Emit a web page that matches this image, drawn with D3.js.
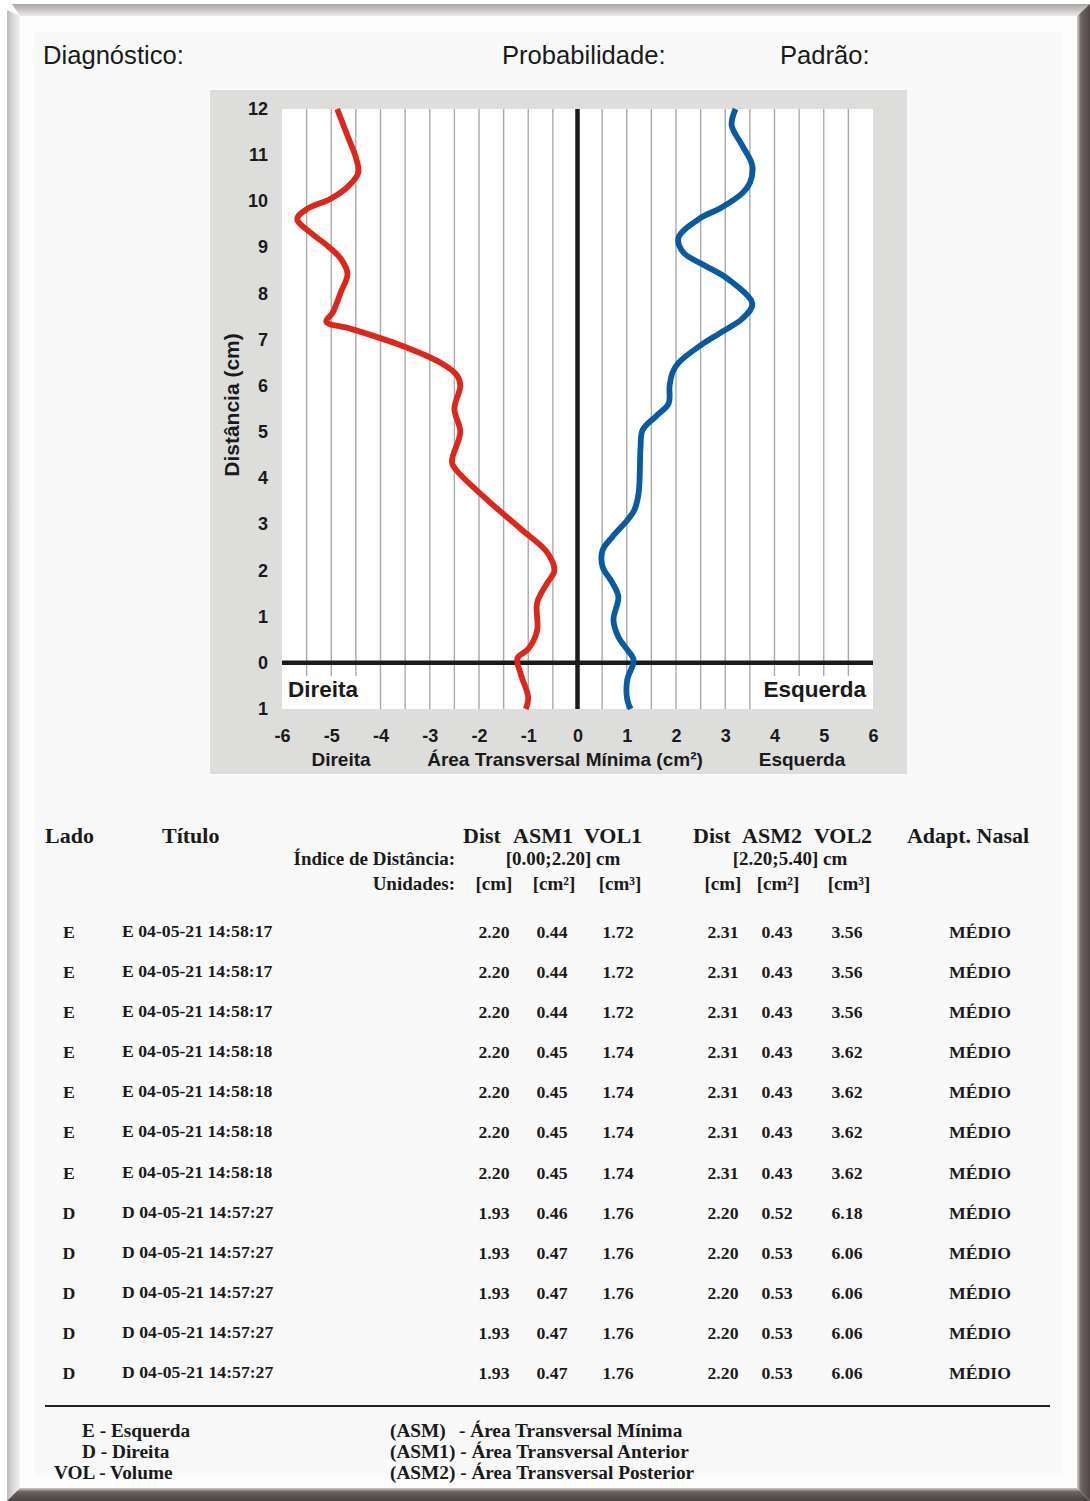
<!DOCTYPE html>
<html>
<head>
<meta charset="utf-8">
<script src="https://cdn.jsdelivr.net/npm/d3@7"></script>
<style>
  html, body { margin: 0; padding: 0; background: #ffffff; }
  svg { display: block; }
</style>
</head>
<body>
<svg id="sheet" width="1090" height="1501"></svg>
<script>
// ---- Curve data: [área (cm²), distância (cm)] ----
const rightSide = [
  [-4.88, 12], [-4.67, 11.42], [-4.51, 10.98], [-4.45, 10.62], [-4.65, 10.33],
  [-5.02, 10.05], [-5.48, 9.84], [-5.69, 9.62], [-5.42, 9.32], [-5.08, 9.04],
  [-4.81, 8.76], [-4.67, 8.43], [-4.81, 8.02], [-4.97, 7.59], [-5.1, 7.39],
  [-4.61, 7.24], [-3.59, 6.88], [-2.78, 6.5], [-2.44, 6.22], [-2.38, 6.0],
  [-2.5, 5.5], [-2.38, 5.0], [-2.55, 4.35], [-2.44, 4.15], [-1.8, 3.5],
  [-1.15, 2.9], [-0.62, 2.4], [-0.47, 2.0], [-0.62, 1.72], [-0.82, 1.3],
  [-0.82, 0.7], [-1.0, 0.3], [-1.22, 0.1], [-1.15, -0.25], [-1.0, -0.75], [-1.05, -1]
];
const leftSide = [
  [3.21, 12], [3.13, 11.65], [3.35, 11.2], [3.55, 10.77], [3.5, 10.4],
  [3.35, 10.18], [2.9, 9.85], [2.5, 9.64], [2.05, 9.21], [2.15, 8.89],
  [2.6, 8.6], [3.05, 8.32], [3.55, 7.78], [3.35, 7.46], [2.9, 7.15],
  [2.5, 6.88], [2.05, 6.5], [1.93, 6.29], [1.87, 6.0], [1.85, 5.62],
  [1.6, 5.35], [1.32, 5.04], [1.28, 4.67], [1.24, 3.67], [1.15, 3.3],
  [1.01, 3.09], [0.7, 2.72], [0.51, 2.44], [0.51, 2.08], [0.7, 1.75],
  [0.83, 1.43], [0.73, 0.93], [0.83, 0.56], [1.0, 0.3], [1.14, 0.06],
  [1.01, -0.37], [1.01, -0.8], [1.08, -1]
];
const xTicks = [-6, -5, -4, -3, -2, -1, 0, 1, 2, 3, 4, 5, 6];
const yTicks = [-1, 0, 1, 2, 3, 4, 5, 6, 7, 8, 9, 10, 11, 12];

// ---- Table data ----
const lado   = ["E","E","E","E","E","E","E","D","D","D","D","D"];
const titulo = ["E 04-05-21 14:58:17","E 04-05-21 14:58:17","E 04-05-21 14:58:17",
                "E 04-05-21 14:58:18","E 04-05-21 14:58:18","E 04-05-21 14:58:18","E 04-05-21 14:58:18",
                "D 04-05-21 14:57:27","D 04-05-21 14:57:27","D 04-05-21 14:57:27","D 04-05-21 14:57:27","D 04-05-21 14:57:27"];
const dist1  = ["2.20","2.20","2.20","2.20","2.20","2.20","2.20","1.93","1.93","1.93","1.93","1.93"];
const asm1   = ["0.44","0.44","0.44","0.45","0.45","0.45","0.45","0.46","0.47","0.47","0.47","0.47"];
const vol1   = ["1.72","1.72","1.72","1.74","1.74","1.74","1.74","1.76","1.76","1.76","1.76","1.76"];
const dist2  = ["2.31","2.31","2.31","2.31","2.31","2.31","2.31","2.20","2.20","2.20","2.20","2.20"];
const asm2   = ["0.43","0.43","0.43","0.43","0.43","0.43","0.43","0.52","0.53","0.53","0.53","0.53"];
const vol2   = ["3.56","3.56","3.56","3.62","3.62","3.62","3.62","6.18","6.06","6.06","6.06","6.06"];
const adapt  = ["MÉDIO","MÉDIO","MÉDIO","MÉDIO","MÉDIO","MÉDIO","MÉDIO","MÉDIO","MÉDIO","MÉDIO","MÉDIO","MÉDIO"];

const svg = d3.select("#sheet");
const SANS = "'Liberation Sans', Arial, sans-serif";
const SERIF = "'Liberation Serif', 'Times New Roman', serif";

// ---- Bevelled frame ----
const defs = svg.append("defs");
function grad(id, x1, y1, x2, y2, stops) {
  const g = defs.append("linearGradient").attr("id", id)
    .attr("x1", x1).attr("y1", y1).attr("x2", x2).attr("y2", y2);
  stops.forEach(s => g.append("stop").attr("offset", s[0]).attr("stop-color", s[1]));
}
grad("gTop", 0, 0, 0, 1, [[0, "#a9a4a3"], [0.5, "#c9c6c5"], [1, "#ecebeb"]]);
grad("gLeft", 0, 0, 1, 0, [[0, "#bdbaba"], [0.5, "#dcdada"], [1, "#f2f1f1"]]);
grad("gRight", 0, 0, 1, 0, [[0, "#d8d4d4"], [0.3, "#6e6464"], [1, "#4f4545"]]);
grad("gBottom", 0, 0, 0, 1, [[0, "#d0cccc"], [0.3, "#6a6060"], [1, "#4b4242"]]);

svg.append("rect").attr("width", 1090).attr("height", 1501).attr("fill", "#ffffff");
svg.append("rect").attr("x", 20).attr("y", 16).attr("width", 1057).attr("height", 1472).attr("fill", "#fdfdfd");
svg.append("rect").attr("x", 35).attr("y", 32).attr("width", 1028).attr("height", 1443).attr("fill", "#f9f9f9");
svg.append("path").attr("d", "M12,4 L1090,4 L1077,16 L20,16 Z").attr("fill", "url(#gTop)");
svg.append("path").attr("d", "M7,10 L20,16 L20,1488 L7,1501 Z").attr("fill", "url(#gLeft)");
svg.append("path").attr("d", "M1077,16 L1090,4 L1090,1501 L1077,1488 Z").attr("fill", "url(#gRight)");
svg.append("path").attr("d", "M20,1488 L1077,1488 L1090,1501 L7,1501 Z").attr("fill", "url(#gBottom)");

// ---- Header labels ----
const head = svg.append("g").attr("font-family", SANS).attr("font-size", 25.6).attr("fill", "#1a1a1a");
head.append("text").attr("x", 43).attr("y", 64).text("Diagnóstico:");
head.append("text").attr("x", 502).attr("y", 64).text("Probabilidade:");
head.append("text").attr("x", 780).attr("y", 64).text("Padrão:");

// ---- Chart ----
const panel = { x: 210, y: 90, w: 697, h: 684 };
const plot = { left: 282, right: 873, top: 109, bottom: 709 };
const x = d3.scaleLinear().domain([-6, 6]).range([plot.left, plot.right]);
const y = d3.scaleLinear().domain([-1, 12]).range([plot.bottom, plot.top]);

svg.append("rect").attr("x", panel.x).attr("y", panel.y).attr("width", panel.w).attr("height", panel.h)
  .attr("fill", "#dddddc");
svg.append("rect").attr("x", plot.left).attr("y", plot.top)
  .attr("width", plot.right - plot.left).attr("height", plot.bottom - plot.top).attr("fill", "#ffffff");

// half-unit vertical grid
const gridVals = d3.range(-5.5, 6, 0.5).filter(v => v !== 0);
svg.append("g").selectAll("line").data(gridVals).join("line")
  .attr("x1", d => x(d)).attr("x2", d => x(d))
  .attr("y1", plot.top).attr("y2", plot.bottom)
  .attr("stroke", "#aaaaaa").attr("stroke-width", 1.4);

// side labels inside plot, on white boxes
const sideFont = 22.5;
const direita = svg.append("text").attr("x", 288).attr("y", 697)
  .attr("font-family", SANS).attr("font-weight", "bold").attr("font-size", sideFont)
  .attr("fill", "#1a1a1a").text("Direita");
const esquerda = svg.append("text").attr("x", 866).attr("y", 697).attr("text-anchor", "end")
  .attr("font-family", SANS).attr("font-weight", "bold").attr("font-size", sideFont)
  .attr("fill", "#1a1a1a").text("Esquerda");
[direita, esquerda].forEach(t => {
  const b = t.node().getBBox();
  svg.insert("rect", () => t.node())
    .attr("x", b.x - 3).attr("y", b.y - 1).attr("width", b.width + 6).attr("height", plot.bottom - b.y + 1)
    .attr("fill", "#ffffff");
});

// main axes through the origin
svg.append("line").attr("x1", plot.left).attr("x2", plot.right).attr("y1", y(0)).attr("y2", y(0))
  .attr("stroke", "#1c1a1a").attr("stroke-width", 4.5);
svg.append("line").attr("x1", x(0)).attr("x2", x(0)).attr("y1", plot.top).attr("y2", plot.bottom)
  .attr("stroke", "#1c1a1a").attr("stroke-width", 4.5);

// profiles
const line = d3.line().x(d => x(d[0])).y(d => y(d[1])).curve(d3.curveCatmullRom.alpha(0.5));
svg.append("path").datum(rightSide).attr("d", line).attr("fill", "none")
  .attr("stroke", "#dc281c").attr("stroke-width", 5.8).attr("stroke-linejoin", "round");
svg.append("path").datum(leftSide).attr("d", line).attr("fill", "none")
  .attr("stroke", "#0a5aa2").attr("stroke-width", 5.8).attr("stroke-linejoin", "round");

// axes (labels only)
const yAxis = d3.axisLeft(y).tickValues(yTicks).tickFormat(d => Math.abs(d)).tickSize(0).tickPadding(0);
const ya = svg.append("g").attr("transform", "translate(268,-1)").call(yAxis);
ya.select(".domain").remove();
ya.selectAll("text").attr("font-family", SANS).attr("font-weight", "bold").attr("font-size", 18)
  .attr("fill", "#1a1a1a").attr("dy", "0.36em");

const xAxis = d3.axisBottom(x).tickValues(xTicks).tickFormat(d => d).tickSize(0).tickPadding(0);
const xa = svg.append("g").attr("transform", "translate(0,729)").call(xAxis);
xa.select(".domain").remove();
xa.selectAll("text").attr("font-family", SANS).attr("font-weight", "bold").attr("font-size", 18)
  .attr("fill", "#1a1a1a").attr("dy", "0.71em");

const axisLab = svg.append("g").attr("font-family", SANS).attr("font-weight", "bold")
  .attr("font-size", 19).attr("fill", "#1a1a1a").attr("text-anchor", "middle");
axisLab.append("text").attr("x", 341).attr("y", 766).text("Direita");
axisLab.append("text").attr("x", 565).attr("y", 766).text("Área Transversal Mínima (cm²)");
axisLab.append("text").attr("x", 802).attr("y", 766).text("Esquerda");
axisLab.append("text").attr("transform", "translate(239,405) rotate(-90)").attr("font-size", 21)
  .text("Distância (cm)");

// ---- Table ----
const tbl = svg.append("g").attr("font-family", SERIF).attr("font-weight", "bold").attr("fill", "#1a1a1a");
const hdr = tbl.append("g").attr("font-size", 22);
hdr.append("text").attr("x", 45).attr("y", 843).text("Lado");
hdr.append("text").attr("x", 162).attr("y", 843).text("Título");
[["Dist", 482], ["ASM1", 543], ["VOL1", 613], ["Dist", 712], ["ASM2", 772], ["VOL2", 843]]
  .forEach(h => hdr.append("text").attr("x", h[1]).attr("y", 843).attr("text-anchor", "middle").text(h[0]));
hdr.append("text").attr("x", 968).attr("y", 843).attr("text-anchor", "middle").text("Adapt. Nasal");

const sub = tbl.append("g").attr("font-size", 19);
sub.append("text").attr("x", 455).attr("y", 865).attr("text-anchor", "end").text("Índice de Distância:");
sub.append("text").attr("x", 563).attr("y", 865).attr("text-anchor", "middle").text("[0.00;2.20] cm");
sub.append("text").attr("x", 790).attr("y", 865).attr("text-anchor", "middle").text("[2.20;5.40] cm");
sub.append("text").attr("x", 455).attr("y", 890).attr("text-anchor", "end").text("Unidades:");
[["[cm]", 494], ["[cm²]", 554], ["[cm³]", 620], ["[cm]", 723], ["[cm²]", 778], ["[cm³]", 849]]
  .forEach(u => sub.append("text").attr("x", u[1]).attr("y", 890).attr("text-anchor", "middle").text(u[0]));

const rowY = d3.scalePoint().domain(d3.range(lado.length)).range([938, 1379]);
const rows = tbl.append("g").attr("font-size", 17.7).selectAll("g").data(d3.range(lado.length)).join("g")
  .attr("transform", i => `translate(0,${rowY(i)})`);
const cols = [
  [lado, 69, "middle"], [titulo, 122, "start"], [dist1, 494, "middle"], [asm1, 552, "middle"],
  [vol1, 618, "middle"], [dist2, 723, "middle"], [asm2, 777, "middle"], [vol2, 847, "middle"],
  [adapt, 980, "middle"]
];
cols.forEach(c => {
  rows.append("text").attr("x", c[1]).attr("y", c[0] === titulo ? -1 : 0)
    .attr("text-anchor", c[2]).text(i => c[0][i]);
});

// ---- Footer legend ----
svg.append("line").attr("x1", 45).attr("x2", 1050).attr("y1", 1406).attr("y2", 1406)
  .attr("stroke", "#222").attr("stroke-width", 2);
const foot = svg.append("g").attr("font-family", SERIF).attr("font-weight", "bold")
  .attr("font-size", 19.3).attr("fill", "#1a1a1a");
foot.append("text").attr("x", 82).attr("y", 1437).text("E - Esquerda");
foot.append("text").attr("x", 82).attr("y", 1458).text("D - Direita");
foot.append("text").attr("x", 54).attr("y", 1479).text("VOL - Volume");
foot.append("text").attr("x", 390).attr("y", 1437).text("(ASM)");
foot.append("text").attr("x", 459).attr("y", 1437).text("- Área Transversal Mínima");
foot.append("text").attr("x", 390).attr("y", 1458).text("(ASM1) - Área Transversal Anterior");
foot.append("text").attr("x", 390).attr("y", 1479).text("(ASM2) - Área Transversal Posterior");
</script>
</body>
</html>
